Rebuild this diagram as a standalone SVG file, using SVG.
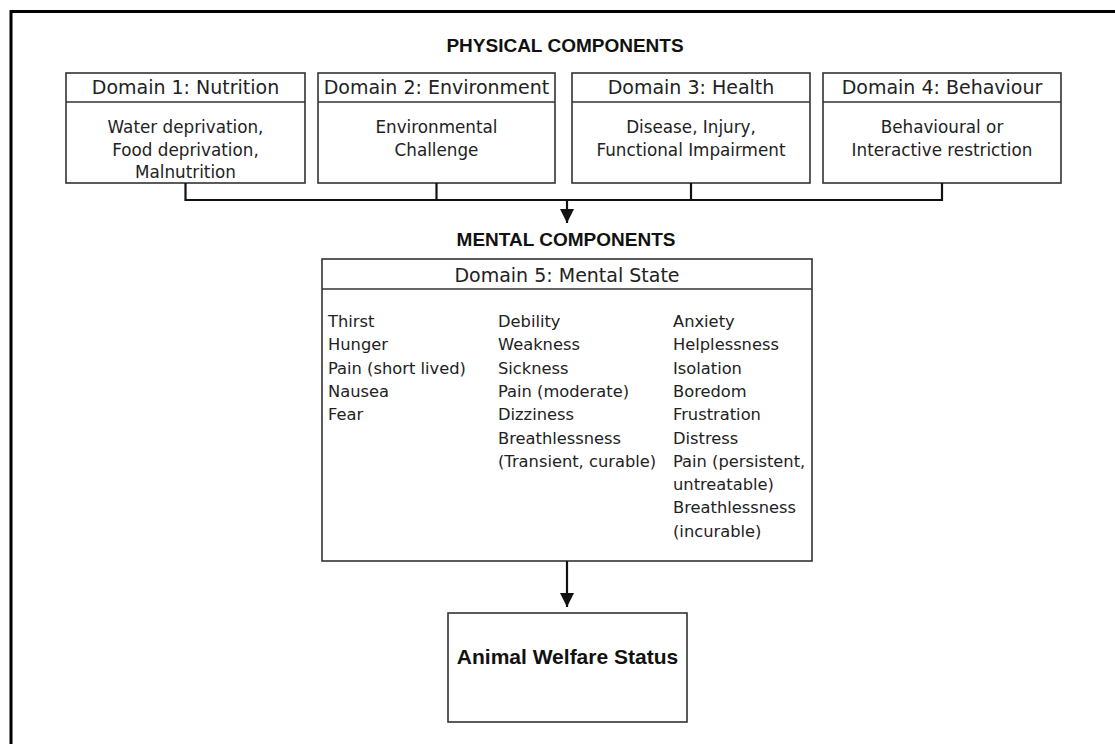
<svg xmlns="http://www.w3.org/2000/svg" width="1115" height="744" viewBox="0 0 1115 744">
<style>
.box{fill:#fff;stroke:#333;stroke-width:1.6}
.hd{font-family:"DejaVu Sans",sans-serif;font-size:19px;fill:#222;text-anchor:middle}
.bd{font-family:"DejaVu Sans",sans-serif;font-size:16.8px;fill:#222;text-anchor:middle}
.ls{font-family:"DejaVu Sans",sans-serif;font-size:16.3px;fill:#222}
.ti{font-family:"Liberation Sans",Arial,sans-serif;font-size:19px;font-weight:bold;fill:#111;text-anchor:middle}
.conn{fill:none;stroke:#111;stroke-width:2.2}
</style>
<defs>
<marker id="ah" viewBox="0 0 10 10" refX="10" refY="5" markerWidth="6.5" markerHeight="6.5" markerUnits="strokeWidth" orient="auto">
<path d="M0,0 L10,5 L0,10 Z" fill="#111"/>
</marker>
</defs>
<rect width="1115" height="744" fill="#fff"/>
<path d="M11,760 V11.5 H1120" fill="none" stroke="#000" stroke-width="3"/>
<text class="ti" x="565" y="52">PHYSICAL COMPONENTS</text>
<text class="ti" x="566" y="246">MENTAL COMPONENTS</text>
<g id="domain1">
<rect class="box" x="66" y="73" width="239" height="110"/>
<line class="box" x1="66" y1="102" x2="305" y2="102"/>
<text class="hd" x="185.5" y="94">Domain 1: Nutrition</text>
<text class="bd" x="185.5" y="133">Water deprivation,</text>
<text class="bd" x="185.5" y="155.5">Food deprivation,</text>
<text class="bd" x="185.5" y="178">Malnutrition</text>
</g>
<g id="domain2">
<rect class="box" x="318" y="73" width="237" height="110"/>
<line class="box" x1="318" y1="102" x2="555" y2="102"/>
<text class="hd" x="436.5" y="94">Domain 2: Environment</text>
<text class="bd" x="436.5" y="133">Environmental</text>
<text class="bd" x="436.5" y="155.5">Challenge</text>
</g>
<g id="domain3">
<rect class="box" x="572" y="73" width="238" height="110"/>
<line class="box" x1="572" y1="102" x2="810" y2="102"/>
<text class="hd" x="691" y="94">Domain 3: Health</text>
<text class="bd" x="691" y="133">Disease, Injury,</text>
<text class="bd" x="691" y="155.5">Functional Impairment</text>
</g>
<g id="domain4">
<rect class="box" x="823" y="73" width="238" height="110"/>
<line class="box" x1="823" y1="102" x2="1061" y2="102"/>
<text class="hd" x="942" y="94">Domain 4: Behaviour</text>
<text class="bd" x="942" y="133">Behavioural or</text>
<text class="bd" x="942" y="155.5">Interactive restriction</text>
</g>
<g id="domain5">
<rect class="box" x="322" y="259" width="490" height="302"/>
<line class="box" x1="322" y1="289" x2="812" y2="289"/>
<text class="hd" x="567" y="282">Domain 5: Mental State</text>
<text class="ls" x="328" y="327">Thirst</text>
<text class="ls" x="328" y="350.3">Hunger</text>
<text class="ls" x="328" y="373.6">Pain (short lived)</text>
<text class="ls" x="328" y="396.9">Nausea</text>
<text class="ls" x="328" y="420.2">Fear</text>
<text class="ls" x="498" y="327">Debility</text>
<text class="ls" x="498" y="350.3">Weakness</text>
<text class="ls" x="498" y="373.6">Sickness</text>
<text class="ls" x="498" y="396.9">Pain (moderate)</text>
<text class="ls" x="498" y="420.2">Dizziness</text>
<text class="ls" x="498" y="443.5">Breathlessness</text>
<text class="ls" x="498" y="466.8">(Transient, curable)</text>
<text class="ls" x="673" y="327">Anxiety</text>
<text class="ls" x="673" y="350.3">Helplessness</text>
<text class="ls" x="673" y="373.6">Isolation</text>
<text class="ls" x="673" y="396.9">Boredom</text>
<text class="ls" x="673" y="420.2">Frustration</text>
<text class="ls" x="673" y="443.5">Distress</text>
<text class="ls" x="673" y="466.8">Pain (persistent,</text>
<text class="ls" x="673" y="490.1">untreatable)</text>
<text class="ls" x="673" y="513.4">Breathlessness</text>
<text class="ls" x="673" y="536.7">(incurable)</text>
</g>
<g id="welfare">
<rect class="box" x="448" y="613" width="239" height="109"/>
<text class="ti" x="567.5" y="664" style="font-size:21px">Animal Welfare Status</text>
</g>
<g id="connectors">
<path class="conn" d="M185.5,183 V200 H942 V183 M436.5,183 V200 M691,183 V200"/>
<line class="conn" x1="567" y1="200" x2="567" y2="223" marker-end="url(#ah)"/>
<line class="conn" x1="567" y1="561" x2="567" y2="607" marker-end="url(#ah)"/>
</g>
</svg>
